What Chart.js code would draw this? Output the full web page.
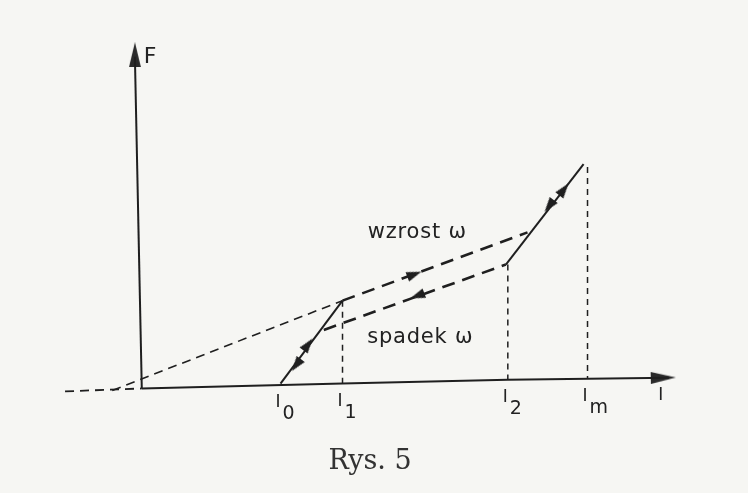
<!DOCTYPE html>
<html>
<head>
<meta charset="utf-8">
<script src="https://cdn.jsdelivr.net/npm/chart.js@4.4.1/dist/chart.umd.min.js"></script>
<style>
  html, body { margin: 0; padding: 0; background: #f6f6f3; }
  #wrap { width: 748px; height: 493px; }
</style>
</head>
<body>
<div id="wrap"><canvas id="chart" width="748" height="493"></canvas></div>
<script>
// Rys. 5 -- F(I) characteristic, arbitrary units (I along x, F along y)

// characteristic currents I0, I1, I2, Im
const currentTicks = [14.1, 20.4, 37.2, 45.3];
const tickSubs = ["0", "1", "2", "m"];
const axisAtTick = [0.4, 0.5, 0.9, 1.0];     // where each tick sits on the (slightly tilted) I axis

// axes
const axisIX = [0, 20.4, 37.2, 53.6];
const axisIY = [0, 0.5, 0.9, 1.1];
const axisExtX = [-7.8, 0];
const axisExtY = [-0.3, 0];
const axisFX = [0, -0.7];
const axisFY = [0, 34.0];

// branches of the curve
const lowBranchX = [14.1, 20.4];
const lowBranchY = [0.5, 9.0];
const highBranchX = [37.0, 44.9];
const highBranchY = [12.7, 23.0];
const wzrostX = [20.4, 39.2];                // rising omega
const wzrostY = [9.0, 16.0];
const spadekX = [18.5, 37.0];                // falling omega
const spadekY = [6.0, 12.7];
const extensionX = [-3.0, 20.4];             // thin dashed extension to the origin
const extensionY = [-0.2, 9.0];

// drop lines at I1, I2, Im
const dropTops = [9.0, 12.7, 22.7];

// direction arrows on the curve
const arrowX = [27.7, 28.0, 16.9, 15.7, 42.9, 41.4];
const arrowY = [11.7, 9.5, 4.5, 2.4, 20.4, 18.7];

const INK = "#1f1f1f";

function pts(xs, ys) {
  return xs.map((x, i) => ({ x, y: ys[i] }));
}

function line(xs, ys, width, dash) {
  return {
    data: pts(xs, ys),
    showLine: true,
    borderColor: INK,
    borderWidth: width,
    borderDash: dash || [],
    pointRadius: 0,
    fill: false,
    tension: 0
  };
}

// narrow arrow head, pointing up before rotation
function arrowHead(w, h, color) {
  const c = document.createElement("canvas");
  c.width = w;
  c.height = h;
  const g = c.getContext("2d");
  g.fillStyle = color;
  g.beginPath();
  g.moveTo(w / 2, 0);
  g.lineTo(w, h);
  g.lineTo(0, h);
  g.closePath();
  g.fill();
  return c;
}

const datasets = [
  line(axisIX, axisIY, 2),
  line(axisExtX, axisExtY, 1.8, [9, 6]),
  line(axisFX, axisFY, 2),
  line(extensionX, extensionY, 1.6, [9, 6]),
  line(wzrostX, wzrostY, 2.6, [13, 8]),
  line(spadekX, spadekY, 2.6, [13, 8]),
  line(lowBranchX, lowBranchY, 2),
  line(highBranchX, highBranchY, 2)
];

currentTicks.slice(1).forEach((x, i) => {
  datasets.push(line([x, x], [dropTops[i], axisAtTick[i + 1]], 1.5, [6, 5]));
});

// arrow heads on the curve
datasets.push({
  data: pts(arrowX, arrowY),
  showLine: false,
  pointStyle: arrowHead(10, 15, INK),
  pointRadius: 5,
  rotation: [69.6, 249.6, 36.5, 216.5, 37.6, 217.6]
});

// axis arrow heads
datasets.push({
  data: [{ x: -0.7, y: 34.2 }, { x: 53.0, y: 1.1 }],
  showLine: false,
  pointStyle: arrowHead(12, 25, "#2a2a2a"),
  pointRadius: 5,
  rotation: [0, 88.8]
});

/* ==============================
   TEXT LABELS
============================== */
const labelPlugin = {
  id: "labels",
  afterDatasetsDraw(chart) {
    const { ctx, scales: { x, y } } = chart;
    ctx.save();
    ctx.fillStyle = "#222";
    ctx.textBaseline = "alphabetic";
    ctx.textAlign = "left";

    // I0 .. Im under the axis
    currentTicks.forEach((v, i) => {
      const px = x.getPixelForValue(v) - 5;
      const py = y.getPixelForValue(axisAtTick[i]);
      ctx.font = "17px 'DejaVu Sans'";
      ctx.fillText("I", px, py + 22);
      ctx.font = "19px 'DejaVu Sans'";
      ctx.fillText(tickSubs[i], px + 7, py + 34);
    });

    // axis names
    ctx.font = "17px 'DejaVu Sans'";
    ctx.fillText("I", x.getPixelForValue(52.5), y.getPixelForValue(axisIY[3]) + 22);
    ctx.font = "22px 'DejaVu Sans'";
    ctx.fillText("F", x.getPixelForValue(0.2), y.getPixelForValue(33.4));

    // branch names
    ctx.font = "21px 'DejaVu Sans'";
    ctx.letterSpacing = "0.8px";
    ctx.textAlign = "center";
    ctx.fillText("wzrost ω", x.getPixelForValue(28.0), y.getPixelForValue(15.4));
    ctx.fillText("spadek ω", x.getPixelForValue(28.3), y.getPixelForValue(4.7));

    // caption
    ctx.letterSpacing = "0px";
    ctx.font = "27px 'DejaVu Serif'";
    ctx.fillStyle = "#333";
    ctx.fillText("Rys. 5", x.getPixelForValue(23.2), y.getPixelForValue(-8.3));
    ctx.restore();
  }
};

const canvas = document.getElementById("chart");
new Chart(canvas.getContext("2d"), {
  type: "scatter",
  data: { datasets },
  options: {
    responsive: false,
    devicePixelRatio: 1,
    animation: false,
    layout: { padding: 0 },
    plugins: { legend: { display: false }, tooltip: { enabled: false } },
    scales: {
      x: { type: "linear", min: -13.8, max: 61.0, display: false },
      y: { type: "linear", min: -10.1, max: 39.2, display: false }
    }
  },
  plugins: [labelPlugin]
});
</script>
</body>
</html>
